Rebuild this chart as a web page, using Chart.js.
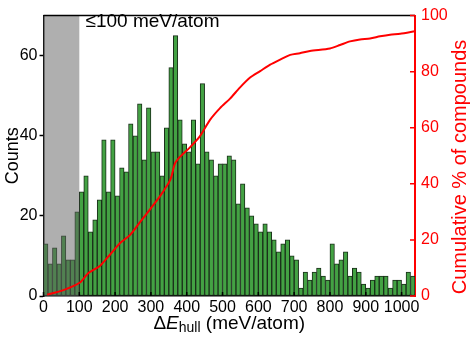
<!DOCTYPE html>
<html>
<head>
<meta charset="utf-8">
<script src="https://cdn.jsdelivr.net/npm/chart.js@4.4.1/dist/chart.umd.min.js"></script>
<style>
  html, body { margin: 0; padding: 0; background: #fff; }
  #wrap { width: 470px; height: 341px; }
</style>
</head>
<body>
<div id="wrap"><canvas id="hullChart"></canvas></div>
<script>
// histogram bins (meV/atom, bin centres) and counts
const binCenters = [
  6.25, 18.75, 31.25, 43.75, 56.25, 68.75, 81.25, 93.75,
  106.25, 118.75, 131.25, 143.75, 156.25, 168.75, 181.25, 193.75,
  206.25, 218.75, 231.25, 243.75, 256.25, 268.75, 281.25, 293.75,
  306.25, 318.75, 331.25, 343.75, 356.25, 368.75, 381.25, 393.75,
  406.25, 418.75, 431.25, 443.75, 456.25, 468.75, 481.25, 493.75,
  506.25, 518.75, 531.25, 543.75, 556.25, 568.75, 581.25, 593.75,
  606.25, 618.75, 631.25, 643.75, 656.25, 668.75, 681.25, 693.75,
  706.25, 718.75, 731.25, 743.75, 756.25, 768.75, 781.25, 793.75,
  806.25, 818.75, 831.25, 843.75, 856.25, 868.75, 881.25, 893.75,
  906.25, 918.75, 931.25, 943.75, 956.25, 968.75, 981.25, 993.75,
  1006.25, 1018.75, 1031.25
];
const binCounts = [
  13, 8, 12, 8, 15, 9, 9, 21,
  26, 30, 16, 19, 24, 39, 26, 39,
  25, 32, 31, 43, 40, 48, 34, 47,
  36, 36, 30, 42, 57, 65, 44, 38,
  36, 44, 33, 53, 36, 34, 30, 33,
  33, 35, 34, 23, 28, 22, 20, 18,
  16, 18, 16, 14, 11, 13, 14, 10,
  9, 2, 6, 4, 6, 7, 5, 4,
  13, 8, 9, 11, 5, 7, 6, 3,
  2, 4, 5, 5, 5, 2, 4, 4,
  3, 6, 5
];

// cumulative curve
const cumEnergy = [10, 54, 102, 124, 158, 186, 214, 242, 270, 298, 326, 354, 367, 381, 409, 437,
  465, 493, 521, 549, 577, 605, 633, 661, 689, 716, 744, 800, 828, 856, 884, 912, 940, 968, 996, 1037];
const cumPercent = [0.5, 2, 4.8, 8, 10.8, 14.8, 18.9, 21.8, 26.4, 31, 35.7, 41.4, 47.2, 49.6, 53, 57,
  62.8, 67, 70.4, 74.4, 77.9, 80.2, 82.5, 84.3, 86, 86.6, 87.4, 88.3, 89.5, 90.8, 91.5, 91.8, 92.6, 93.2, 93.5, 94.4];

const xTicks = [0, 100, 200, 300, 400, 500, 600, 700, 800, 900, 1000];
const countTicks = [0, 20, 40, 60];
const percentTicks = [0, 20, 40, 60, 80, 100];
const stableCutoff = 100;

const RED = '#ff0000';
const FONT = 'Liberation Sans, Arial, sans-serif';

const setTicks = (list) => (scale) => { scale.ticks = list.map(v => ({ value: v })); };

const decorPlugin = {
  id: 'decor',
  afterDatasetDraw(chart, args) {
    if (args.index !== 0) return;
    const { ctx, chartArea: a, scales: { x } } = chart;
    const x1 = x.getPixelForValue(stableCutoff);
    ctx.save();
    ctx.fillStyle = 'rgba(95,95,95,0.5)';
    ctx.fillRect(a.left, a.top, x1 - a.left, a.bottom - a.top);
    ctx.restore();
  },
  afterDraw(chart) {
    const { ctx, chartArea: a, scales: { x, y2 } } = chart;
    ctx.save();
    ctx.lineWidth = 1.5;
    ctx.strokeStyle = '#000';
    ctx.beginPath();
    ctx.moveTo(a.left, a.top);
    ctx.lineTo(a.right, a.top);
    xTicks.forEach(v => {
      const px = x.getPixelForValue(v);
      ctx.moveTo(px, a.bottom);
      ctx.lineTo(px, a.bottom - 4);
    });
    ctx.stroke();

    ctx.strokeStyle = RED;
    ctx.beginPath();
    percentTicks.forEach(v => {
      const py = y2.getPixelForValue(v);
      ctx.moveTo(a.right, py);
      ctx.lineTo(a.right - 5, py);
    });
    ctx.stroke();

    ctx.fillStyle = '#000';
    ctx.textBaseline = 'alphabetic';
    ctx.font = '19px ' + FONT;
    ctx.fillText('\u2264100 meV/atom', a.left + 42, 27);

    // x axis title: ΔE_hull (meV/atom)
    const parts = [
      { t: '\u0394', f: '19px ' + FONT, dy: 0 },
      { t: 'E', f: 'italic 19px ' + FONT, dy: 0 },
      { t: 'hull', f: '14px ' + FONT, dy: 3 },
      { t: ' (meV/atom)', f: '19px ' + FONT, dy: 0 }
    ];
    let total = 0;
    parts.forEach(p => { ctx.font = p.f; p.w = ctx.measureText(p.t).width; total += p.w; });
    let cx = (a.left + a.right) / 2 - total / 2;
    parts.forEach(p => {
      ctx.font = p.f;
      ctx.fillText(p.t, cx, 329 + p.dy);
      cx += p.w;
    });

    // right axis title, reading bottom to top
    ctx.save();
    ctx.translate(460, 167);
    ctx.rotate(-Math.PI / 2);
    ctx.fillStyle = RED;
    ctx.font = '20px ' + FONT;
    ctx.textAlign = 'center';
    ctx.textBaseline = 'middle';
    ctx.fillText('Cumulative % of compounds', 0, 0);
    ctx.restore();
    ctx.restore();
  }
};

const ctx = document.getElementById('hullChart').getContext('2d');
new Chart(ctx, {
  data: {
    datasets: [
      {
        type: 'bar',
        label: 'Counts',
        data: binCenters.map((c, i) => ({ x: c, y: binCounts[i] })),
        backgroundColor: '#43a243',
        borderColor: '#1a2e1a',
        borderWidth: 1,
        borderSkipped: false,
        barPercentage: 1,
        categoryPercentage: 1,
        yAxisID: 'y',
        order: 1
      },
      {
        type: 'line',
        label: 'Cumulative',
        data: cumEnergy.map((e, i) => ({ x: e, y: cumPercent[i] })),
        borderColor: RED,
        borderWidth: 2,
        pointRadius: 0,
        tension: 0.25,
        fill: false,
        yAxisID: 'y2',
        order: 0
      }
    ]
  },
  options: {
    responsive: true,
    maintainAspectRatio: false,
    animation: false,
    layout: { padding: { top: 8, left: 0, right: 0, bottom: 0 } },
    plugins: { legend: { display: false }, tooltip: { enabled: false } },
    scales: {
      x: {
        type: 'linear',
        offset: false,
        min: 0,
        max: 1037.5,
        afterBuildTicks: setTicks(xTicks),
        afterFit: (s) => { s.height = 45; },
        grid: { drawOnChartArea: false, drawTicks: false, offset: false },
        border: { color: '#000', width: 1.5 },
        ticks: {
          color: '#000', font: { family: FONT, size: 16 }, padding: 2, maxRotation: 0, autoSkip: false,
          callback: (v) => String(v)
        }
      },
      y: {
        position: 'left',
        min: 0,
        max: 70,
        afterBuildTicks: setTicks(countTicks),
        afterFit: (s) => { s.width = 43.5; },
        grid: { drawOnChartArea: false, drawTicks: true, tickLength: 4, color: '#000', tickWidth: 1.5 },
        border: { color: '#000', width: 1.5 },
        ticks: { color: '#000', font: { family: FONT, size: 16 }, padding: 2 },
        title: { display: true, text: 'Counts', color: '#000', font: { family: FONT, size: 18 }, padding: 2 }
      },
      y2: {
        position: 'right',
        min: 0,
        max: 100,
        afterBuildTicks: setTicks(percentTicks),
        afterFit: (s) => { s.width = 55; },
        grid: { drawOnChartArea: false, drawTicks: false },
        border: { color: RED, width: 2 },
        ticks: { color: RED, font: { family: FONT, size: 16 }, padding: 6 }
      }
    }
  },
  plugins: [decorPlugin]
});
</script>
</body>
</html>
